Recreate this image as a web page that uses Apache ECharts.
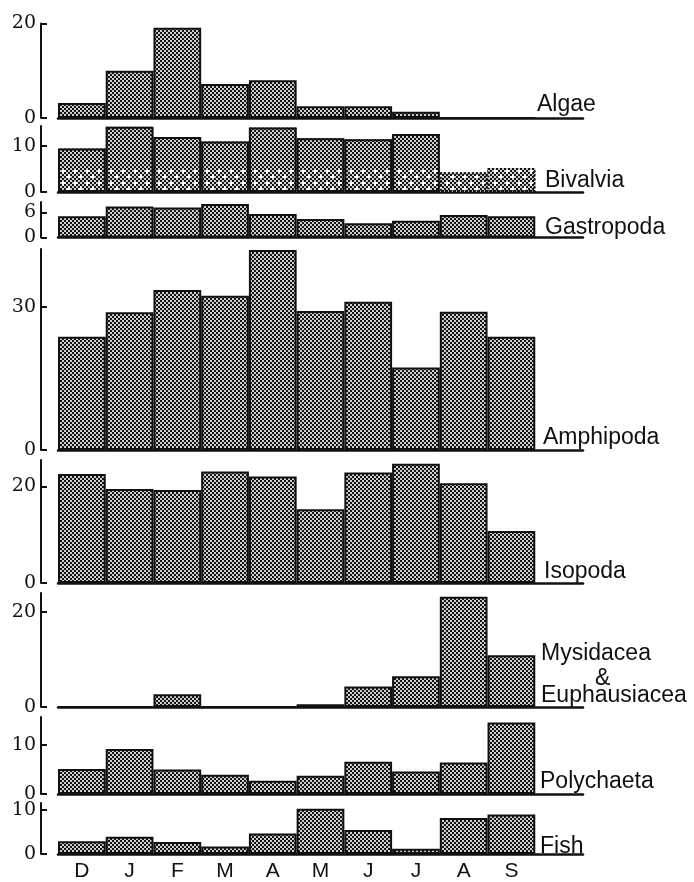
<!DOCTYPE html>
<html>
<head>
<meta charset="utf-8">
<script src="https://cdn.jsdelivr.net/npm/echarts@6/dist/echarts.min.js"></script>
<style>
  html, body { margin: 0; padding: 0; background: #fff; }
  #chart { width: 694px; height: 882px; }
</style>
</head>
<body>
<div id="chart"></div>
<script>
// Month of sampling, December to September
const months = ['D', 'J', 'F', 'M', 'A', 'M', 'J', 'J', 'A', 'S'];

// Diet composition per prey group (%), by month
const algae       = [3.2, 10.0, 19.1, 7.2, 8.0, 2.5, 2.5, 1.3, 0, 0];
const bivalvia    = [9.4, 14.1, 11.9, 10.9, 13.9, 11.6, 11.4, 12.5, 4.2, 5.2];
const bivalviaLow = [5.1, 5.1, 5.1, 5.1, 5.1, 5.1, 5.1, 5.1, 4.2, 5.2];
const gastropoda  = [5.1, 7.4, 7.2, 8.0, 5.6, 4.4, 3.4, 4.0, 5.4, 5.1];
const amphipoda   = [23.8, 28.9, 33.6, 32.4, 42.0, 29.2, 31.1, 17.3, 29.0, 23.8];
const isopoda     = [22.6, 19.5, 19.3, 23.1, 22.1, 15.3, 22.9, 24.7, 20.7, 10.8];
const mysidacea   = [0, 0, 2.7, 0, 0, 0.6, 4.3, 6.5, 23.2, 10.9];
const polychaeta  = [5.1, 9.2, 5.0, 3.9, 2.7, 3.7, 6.6, 4.6, 6.4, 14.6];
const fish        = [2.9, 3.9, 2.7, 1.7, 4.6, 10.2, 5.4, 1.2, 8.1, 8.9];

// Axis extents and the labelled tick of each panel
const axisMax   = [20, 14.25, 8.5, 42.2, 25.5, 24, 15.7, 11.5];
const axisTicks = [20, 10, 6, 30, 20, 20, 10, 10];

// Panel frames (top of axis, baseline) in pixels
const frames = [
  [23.5, 118], [126, 192], [202, 237.5], [249, 450],
  [460, 583], [593, 707], [717, 794], [803, 860]
];

// Halftone screen used to fill the bars
function screen(dark, light, holes) {
  const c = document.createElement('canvas');
  c.width = 12; c.height = 12;
  const g = c.getContext('2d');
  g.fillStyle = light; g.fillRect(0, 0, 12, 12);
  g.fillStyle = dark;
  for (let r = 0; r < 6; r++) {
    for (let k = 0; k < 6; k++) {
      const inHole = holes && holes[r][k] === '#';
      if ((r + k) % 2 === 0 && !inHole) g.fillRect(k * 2, r * 2, 2, 2);
    }
  }
  if (holes) {
    g.fillStyle = '#ffffff';
    for (let r = 0; r < 6; r++) {
      for (let k = 0; k < 6; k++) {
        if (holes[r][k] === '#') g.fillRect(k * 2, r * 2, 2, 2);
      }
    }
  }
  return { image: c, repeat: 'repeat' };
}
const darkFill = screen('#141414', '#cfcfcf');
const speckleFill = screen('#141414', '#cfcfcf', [
  '......',
  '.##...',
  '.#....',
  '....#.',
  '...##.',
  '......'
]);

const catAxis = months.concat(['']);
const serif = '"DejaVu Serif", "Liberation Serif", serif';
const sans = '"Liberation Sans", Arial, sans-serif';

const grids = [], xAxes = [], yAxes = [], series = [];
frames.forEach(([top, base], i) => {
  grids.push({ left: 58, width: 525, top: top, height: base - top });
  xAxes.push({
    type: 'category', gridIndex: i, data: catAxis,
    axisLine: { show: true, lineStyle: { color: '#111', width: 2.5 } },
    axisTick: { show: false },
    axisLabel: {
      show: i === frames.length - 1, interval: 0, margin: 7,
      color: '#111', fontFamily: sans, fontSize: 21
    },
    splitLine: { show: false }
  });
  yAxes.push({
    type: 'value', gridIndex: i, min: 0, max: axisMax[i], offset: 17,
    axisLine: { show: true, lineStyle: { color: '#111', width: 2 } },
    axisTick: { show: true, inside: true, length: 6,
      lineStyle: { color: '#111', width: 2 },
      customValues: [0, axisTicks[i]] },
    axisLabel: { customValues: [0, axisTicks[i]], margin: 5,
      color: '#111', fontFamily: serif, fontSize: 19 },
    splitLine: { show: false }
  });
});

const barBase = {
  type: 'bar', barCategoryGap: '0%',
  itemStyle: { color: darkFill, borderColor: '#111', borderWidth: 2 },
  silent: true
};
const groups = [algae, bivalvia, gastropoda, amphipoda, isopoda, mysidacea, polychaeta, fish];
groups.forEach((vals, i) => {
  if (i === 1) {
    // dark upper part, speckled lower part, then a shared outline on top
    series.push(Object.assign({}, barBase, {
      xAxisIndex: i, yAxisIndex: i, data: vals,
      itemStyle: { color: darkFill, borderWidth: 0 }
    }));
    series.push(Object.assign({}, barBase, {
      xAxisIndex: i, yAxisIndex: i, data: bivalviaLow, barGap: '-100%', z: 3,
      itemStyle: { color: speckleFill, borderWidth: 0 }
    }));
    series.push(Object.assign({}, barBase, {
      xAxisIndex: i, yAxisIndex: i, barGap: '-100%', z: 4,
      data: vals.map((v, k) => ({
        value: v,
        itemStyle: { borderType: bivalviaLow[k] >= v ? [2, 2] : 'solid' }
      })),
      itemStyle: { color: 'rgba(0,0,0,0)', borderColor: '#111', borderWidth: 2 }
    }));
  } else {
    series.push(Object.assign({}, barBase, { xAxisIndex: i, yAxisIndex: i, data: vals }));
  }
});

// Prey group names at the right of each panel
const names = [
  ['Algae', 537, 105], ['Bivalvia', 545, 181], ['Gastropoda', 545, 228],
  ['Amphipoda', 543, 437.5], ['Isopoda', 544, 571.5], ['Mysidacea', 541, 653.5],
  ['&', 595, 678.5], ['Euphausiacea', 541, 696], ['Polychaeta', 540, 782],
  ['Fish', 540, 847]
];
const graphic = names.map(([t, x, y]) => ({
  type: 'text', silent: true,
  style: { text: t, x: x, y: y, fill: '#111', font: '23px ' + sans, verticalAlign: 'middle' }
}));

const chart = echarts.init(document.getElementById('chart'), null, { renderer: 'canvas' });
chart.setOption({
  animation: false,
  backgroundColor: '#fff',
  grid: grids, xAxis: xAxes, yAxis: yAxes, series: series, graphic: graphic
});
</script>
</body>
</html>
